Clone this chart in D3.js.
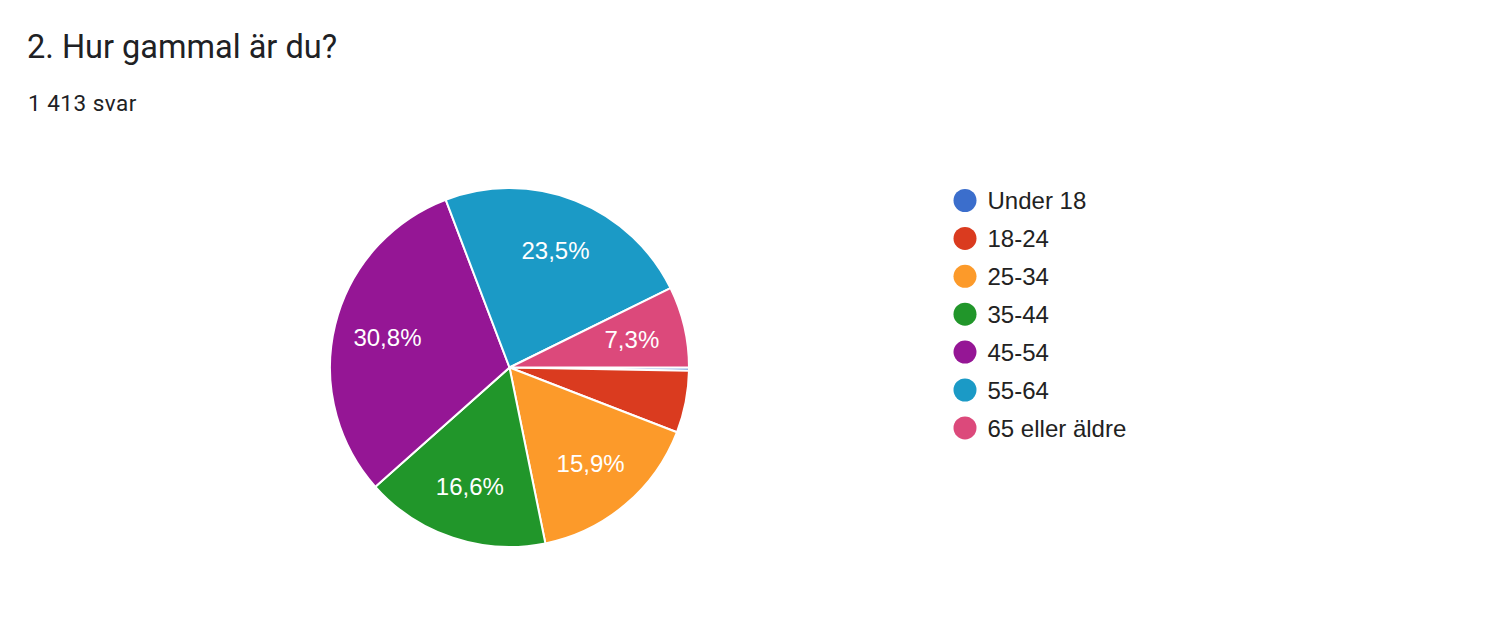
<!DOCTYPE html>
<html>
<head>
<meta charset="utf-8">
<script src="https://cdn.jsdelivr.net/npm/d3@7"></script>
<style>
	html, body { margin: 0; padding: 0; background: #fff; }
	svg { display: block; }
</style>
</head>
<body>
<svg id="chart" width="1504" height="640"></svg>
<script>
(function(){
	'use strict';

	// DATA
	var categories = ['Under 18', '18-24', '25-34', '35-44', '45-54', '55-64', '65 eller äldre'];
	var counts = [4, 79, 225, 235, 435, 332, 103];
	var colors = ['#3b6ecc', '#da3b1f', '#fc9a2a', '#21962a', '#951695', '#1b9ac6', '#dc497b'];
	var title = '2. Hur gammal är du?';
	var subtitle = '1 413 svar';

	var total = d3.sum(counts);
	var data = categories.map(function(c, i){
		return { label: c, value: counts[i], color: colors[i] };
	});

	var svg = d3.select('#chart');
	var center = { x: 509.5, y: 367.5 };
	var radius = 179.5;
	var sansFont = '"Liberation Sans", Arial, sans-serif';

	// HEADER
	svg.append('text')
		.text(title)
		.attr('x', 27).attr('y', 58)
		.attr('font-family', 'Roboto, sans-serif')
		.attr('font-size', 32.5)
		.attr('fill', '#202124');
	svg.append('text')
		.text(subtitle)
		.attr('x', 28).attr('y', 111)
		.attr('font-family', 'Roboto, sans-serif')
		.attr('font-size', 22.5)
		.attr('letter-spacing', 0.5)
		.attr('fill', '#202124');

	// PIE
	var pie = d3.pie()
		.value(function(d){ return d.value; })
		.sort(null)
		.startAngle(Math.PI / 2)
		.endAngle(Math.PI / 2 + 2 * Math.PI);
	var arc = d3.arc().innerRadius(0).outerRadius(radius);
	var labelArc = d3.arc().innerRadius(radius * 0.7).outerRadius(radius * 0.7);

	var g = svg.append('g').attr('transform', 'translate(' + center.x + ',' + center.y + ')');
	var slices = pie(data);

	g.selectAll('path.slice').data(slices).enter()
		.append('path')
		.attr('class', 'slice')
		.attr('d', arc)
		.attr('fill', function(d){ return d.data.color; })
		.attr('stroke', '#fff')
		.attr('stroke-width', 2)
		.attr('stroke-linejoin', 'round');

	var fmt = function(v){ return d3.format('.1f')(v).replace('.', ',') + '%'; };
	g.selectAll('text.pct').data(slices.filter(function(d){ return d.value / total > 0.06; })).enter()
		.append('text')
		.attr('class', 'pct')
		.attr('transform', function(d){ return 'translate(' + labelArc.centroid(d) + ')'; })
		.attr('dy', '0.36em')
		.attr('text-anchor', 'middle')
		.attr('font-family', sansFont)
		.attr('font-size', 24)
		.attr('fill', '#fff')
		.text(function(d){ return fmt(d.value / total * 100); });

	// LEGEND
	var legend = svg.append('g').attr('transform', 'translate(965,200.5)');
	var item = legend.selectAll('g.item').data(data).enter()
		.append('g')
		.attr('class', 'item')
		.attr('transform', function(d, i){ return 'translate(0,' + (i * 37.9) + ')'; });
	item.append('circle')
		.attr('r', 11.5)
		.attr('fill', function(d){ return d.color; });
	item.append('text')
		.attr('x', 22.5)
		.attr('dy', '0.36em')
		.attr('font-family', sansFont)
		.attr('font-size', 24)
		.attr('fill', '#222')
		.text(function(d){ return d.label; });
})();
</script>
</body>
</html>
